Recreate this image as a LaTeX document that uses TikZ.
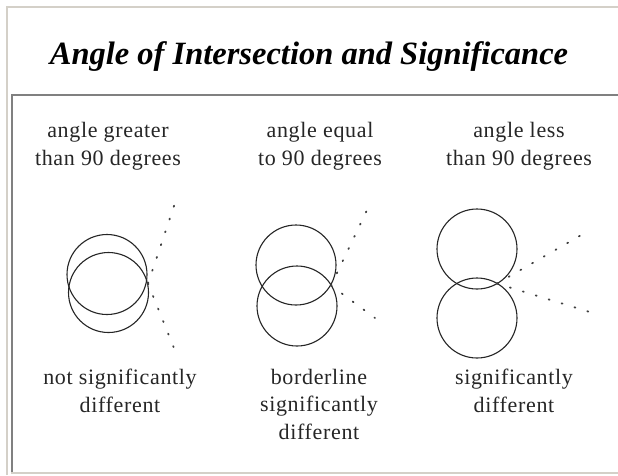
\documentclass[tikz,border=0pt]{standalone}
\usepackage{fontspec}
\setmainfont{Liberation Serif}
\newfontfamily\bodyfont[LetterSpace=3]{Liberation Serif}
\begin{document}
\begin{tikzpicture}[x=1pt,y=-1pt]
\definecolor{lightframe}{HTML}{D4D0C8}
\definecolor{darkframe}{HTML}{808080}
\tikzset{
  framelight/.style={draw=lightframe,line width=2pt},
  framedark/.style={draw=darkframe,line width=2pt},
  ring/.style={draw=black!85,line width=1.1pt},
  dotline/.style={draw=black!75,line width=1.8pt,line cap=round,dash pattern=on 1pt off 12.5pt},
  lbl/.style={font=\bodyfont\fontsize{22}{27.5}\selectfont,align=center,inner sep=0pt,text=black!85},
  ttl/.style={font=\fontsize{32.5}{36}\selectfont\bfseries\itshape,inner sep=0pt}
}
\useasboundingbox[fill=white] (0,0) rectangle (618,475);
% outer frame
\draw[framelight] (7,475) -- (7,7) -- (618,7);
% inner box
\draw[framedark] (12,472) -- (12,95) -- (618,95);
\draw[framelight] (11,472.5) -- (618,472.5);
% title
\node[ttl] (title) at (309,57) {Angle of Intersection and Significance};
% headers
\node[lbl,anchor=base] (h1) at (108,165) {angle greater\\than 90 degrees};
\node[lbl,anchor=base] (h2) at (320,165) {angle equal\\to 90 degrees};
\node[lbl,anchor=base] (h3) at (519,165) {angle less\\than 90 degrees};
% footers
\node[lbl,anchor=north] (f1) at (120,369) {not significantly\\different};
\node[lbl,anchor=north] (f2) at (319,369) {borderline\\significantly\\different};
\node[lbl,anchor=north] (f3) at (514,369) {significantly\\different};
% left circles
\node[ring,circle,minimum size=80pt,inner sep=0pt] (c1a) at (107,274.5) {};
\node[ring,circle,minimum size=80pt,inner sep=0pt] (c1b) at (108.5,292.5) {};
\coordinate (x1) at (148,283.5);
\coordinate (u1) at (175,203);
\coordinate (d1) at (176,353);
\draw[dotline] (x1) -- (u1);
\draw[dotline] (x1) -- (d1);
% middle circles
\node[ring,circle,minimum size=80pt,inner sep=0pt] (c2a) at (296,265) {};
\node[ring,circle,minimum size=80pt,inner sep=0pt] (c2b) at (297,306) {};
\coordinate (x2) at (331,285.5);
\coordinate (u2) at (368,208);
\coordinate (d2) at (375,318);
\draw[dotline] (x2) -- (u2);
\draw[dotline] (x2) -- (d2);
% right circles
\node[ring,circle,minimum size=80pt,inner sep=0pt] (c3a) at (477,249) {};
\node[ring,circle,minimum size=80pt,inner sep=0pt] (c3b) at (477,318) {};
\coordinate (x3) at (497,283.5);
\coordinate (u3) at (590,230);
\coordinate (d3) at (593,313);
\draw[dotline] (x3) -- (u3);
\draw[dotline] (x3) -- (d3);
\end{tikzpicture}
\end{document}
